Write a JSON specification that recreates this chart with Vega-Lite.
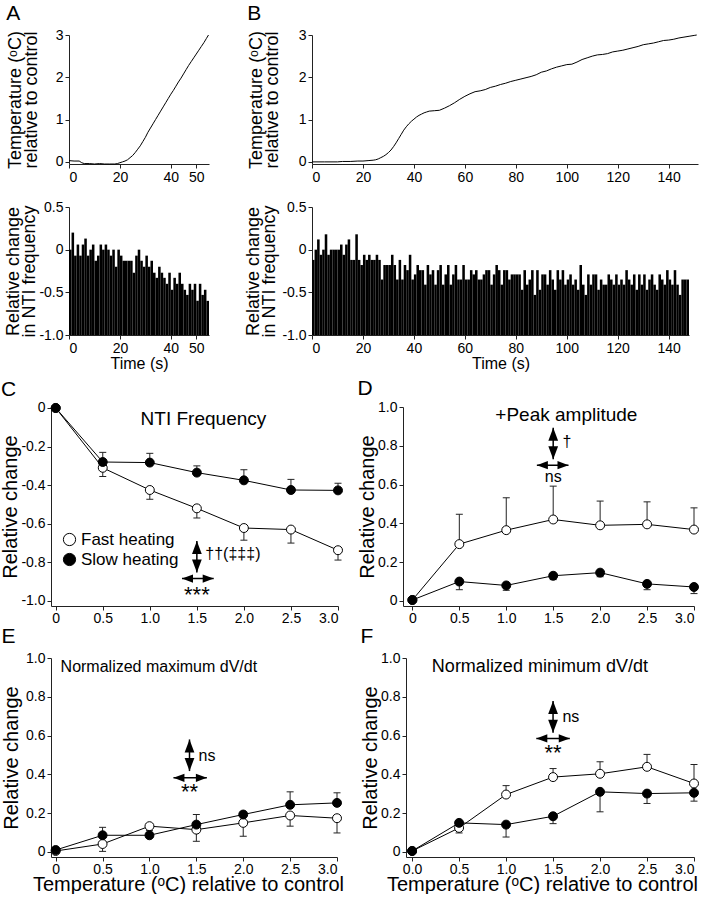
{
"$schema":"https://vega.github.io/schema/vega-lite/v6.json",
"padding":{"left":0,"top":3,"right":0,"bottom":0},
"background":"white",
"datasets":{
"tempA":[{"s":0,"y":0.03},{"s":2,"y":0.02},{"s":4,"y":0.02},{"s":5,"y":-0.02},{"s":6,"y":-0.04},{"s":8,"y":-0.04},{"s":10,"y":-0.05},{"s":12,"y":-0.04},{"s":14,"y":-0.05},{"s":16,"y":-0.05},{"s":18,"y":-0.05},{"s":19,"y":-0.04},{"s":20,"y":-0.02},{"s":21,"y":0},{"s":22,"y":0.02},{"s":23,"y":0.05},{"s":24,"y":0.1},{"s":25,"y":0.15},{"s":26,"y":0.22},{"s":27,"y":0.3},{"s":28,"y":0.38},{"s":29,"y":0.48},{"s":30,"y":0.58},{"s":31,"y":0.7},{"s":32,"y":0.8},{"s":33,"y":0.9},{"s":34,"y":1.0},{"s":35,"y":1.1},{"s":36,"y":1.2},{"s":37,"y":1.3},{"s":38,"y":1.4},{"s":39,"y":1.5},{"s":40,"y":1.6},{"s":41,"y":1.69},{"s":42,"y":1.79},{"s":43,"y":1.89},{"s":44,"y":1.98},{"s":45,"y":2.08},{"s":46,"y":2.18},{"s":47,"y":2.28},{"s":48,"y":2.37},{"s":49,"y":2.46},{"s":50,"y":2.55},{"s":51,"y":2.64},{"s":52,"y":2.73},{"s":53,"y":2.82},{"s":54,"y":2.92},{"s":54.8,"y":3.0}],
"tempB":[{"s":0,"y":0},{"s":5,"y":0},{"s":10,"y":0},{"s":12,"y":0.01},{"s":15,"y":0.01},{"s":18,"y":0.02},{"s":20,"y":0.02},{"s":22,"y":0.03},{"s":24,"y":0.04},{"s":25,"y":0.05},{"s":26,"y":0.07},{"s":27,"y":0.1},{"s":28,"y":0.13},{"s":29,"y":0.17},{"s":30,"y":0.22},{"s":31,"y":0.28},{"s":32,"y":0.36},{"s":33,"y":0.45},{"s":34,"y":0.55},{"s":35,"y":0.65},{"s":36,"y":0.75},{"s":37,"y":0.83},{"s":38,"y":0.9},{"s":39,"y":0.96},{"s":40,"y":1.01},{"s":41,"y":1.06},{"s":42,"y":1.1},{"s":43,"y":1.13},{"s":44,"y":1.16},{"s":45,"y":1.18},{"s":46,"y":1.2},{"s":48,"y":1.21},{"s":50,"y":1.22},{"s":52,"y":1.27},{"s":54,"y":1.33},{"s":56,"y":1.4},{"s":58,"y":1.48},{"s":60,"y":1.55},{"s":62,"y":1.61},{"s":64,"y":1.66},{"s":66,"y":1.68},{"s":68,"y":1.71},{"s":70,"y":1.76},{"s":72,"y":1.79},{"s":74,"y":1.83},{"s":76,"y":1.86},{"s":78,"y":1.9},{"s":80,"y":1.93},{"s":82,"y":1.96},{"s":84,"y":1.99},{"s":86,"y":2.02},{"s":88,"y":2.06},{"s":90,"y":2.12},{"s":92,"y":2.15},{"s":94,"y":2.2},{"s":96,"y":2.24},{"s":98,"y":2.27},{"s":100,"y":2.3},{"s":102,"y":2.31},{"s":104,"y":2.36},{"s":106,"y":2.42},{"s":108,"y":2.46},{"s":110,"y":2.5},{"s":112,"y":2.53},{"s":114,"y":2.54},{"s":116,"y":2.56},{"s":118,"y":2.6},{"s":120,"y":2.62},{"s":122,"y":2.64},{"s":124,"y":2.67},{"s":126,"y":2.7},{"s":128,"y":2.73},{"s":130,"y":2.77},{"s":132,"y":2.79},{"s":134,"y":2.81},{"s":136,"y":2.84},{"s":138,"y":2.87},{"s":140,"y":2.88},{"s":142,"y":2.9},{"s":144,"y":2.93},{"s":146,"y":2.95},{"s":148,"y":2.97},{"s":150,"y":2.99},{"s":151,"y":3.0}],
"barsA":[{"t0":0,"t1":1,"v":0},{"t0":1,"t1":2,"v":0.2},{"t0":2,"t1":3,"v":-0.07},{"t0":3,"t1":4,"v":0.06},{"t0":4,"t1":5,"v":-0.07},{"t0":5,"t1":6,"v":0.06},{"t0":6,"t1":7,"v":0.13},{"t0":7,"t1":8,"v":-0.07},{"t0":8,"t1":9,"v":0},{"t0":9,"t1":10,"v":0.06},{"t0":10,"t1":11,"v":-0.13},{"t0":11,"t1":12,"v":-0.07},{"t0":12,"t1":13,"v":0.06},{"t0":13,"t1":14,"v":0},{"t0":14,"t1":15,"v":0.06},{"t0":15,"t1":16,"v":0},{"t0":16,"t1":17,"v":-0.07},{"t0":17,"t1":18,"v":0},{"t0":18,"t1":19,"v":-0.2},{"t0":19,"t1":20,"v":0},{"t0":20,"t1":21,"v":-0.07},{"t0":21,"t1":22,"v":-0.13},{"t0":22,"t1":23,"v":-0.13},{"t0":23,"t1":24,"v":-0.13},{"t0":24,"t1":25,"v":-0.13},{"t0":25,"t1":26,"v":-0.27},{"t0":26,"t1":27,"v":-0.07},{"t0":27,"t1":28,"v":0},{"t0":28,"t1":29,"v":-0.13},{"t0":29,"t1":30,"v":-0.2},{"t0":30,"t1":31,"v":-0.07},{"t0":31,"t1":32,"v":-0.2},{"t0":32,"t1":33,"v":-0.13},{"t0":33,"t1":34,"v":-0.27},{"t0":34,"t1":35,"v":-0.33},{"t0":35,"t1":36,"v":-0.2},{"t0":36,"t1":37,"v":-0.27},{"t0":37,"t1":38,"v":-0.33},{"t0":38,"t1":39,"v":-0.4},{"t0":39,"t1":40,"v":-0.27},{"t0":40,"t1":41,"v":-0.47},{"t0":41,"t1":42,"v":-0.33},{"t0":42,"t1":43,"v":-0.4},{"t0":43,"t1":44,"v":-0.27},{"t0":44,"t1":45,"v":-0.4},{"t0":45,"t1":46,"v":-0.47},{"t0":46,"t1":47,"v":-0.53},{"t0":47,"t1":48,"v":-0.4},{"t0":48,"t1":49,"v":-0.47},{"t0":49,"t1":50,"v":-0.4},{"t0":50,"t1":51,"v":-0.6},{"t0":51,"t1":52,"v":-0.4},{"t0":52,"t1":53,"v":-0.53},{"t0":53,"t1":54,"v":-0.47},{"t0":54,"t1":55,"v":-0.6}],
"barsB":[{"t0":0,"t1":1,"v":-0.12},{"t0":1,"t1":2,"v":0},{"t0":2,"t1":3,"v":0.12},{"t0":3,"t1":4,"v":-0.06},{"t0":4,"t1":5,"v":0},{"t0":5,"t1":6,"v":0.18},{"t0":6,"t1":7,"v":-0.06},{"t0":7,"t1":8,"v":0},{"t0":8,"t1":9,"v":0},{"t0":9,"t1":10,"v":0},{"t0":10,"t1":11,"v":0},{"t0":11,"t1":12,"v":0.06},{"t0":12,"t1":13,"v":-0.06},{"t0":13,"t1":14,"v":0.06},{"t0":14,"t1":15,"v":0.12},{"t0":15,"t1":16,"v":-0.12},{"t0":16,"t1":17,"v":-0.12},{"t0":17,"t1":18,"v":0.18},{"t0":18,"t1":19,"v":-0.12},{"t0":19,"t1":20,"v":-0.18},{"t0":20,"t1":21,"v":-0.06},{"t0":21,"t1":22,"v":-0.12},{"t0":22,"t1":23,"v":-0.06},{"t0":23,"t1":24,"v":-0.12},{"t0":24,"t1":25,"v":-0.12},{"t0":25,"t1":26,"v":-0.06},{"t0":26,"t1":27,"v":-0.12},{"t0":27,"t1":28,"v":-0.35},{"t0":28,"t1":29,"v":-0.18},{"t0":29,"t1":30,"v":-0.18},{"t0":30,"t1":31,"v":-0.18},{"t0":31,"t1":32,"v":-0.06},{"t0":32,"t1":33,"v":-0.18},{"t0":33,"t1":34,"v":-0.35},{"t0":34,"t1":35,"v":-0.12},{"t0":35,"t1":36,"v":-0.35},{"t0":36,"t1":37,"v":-0.18},{"t0":37,"t1":38,"v":-0.24},{"t0":38,"t1":39,"v":-0.06},{"t0":39,"t1":40,"v":-0.35},{"t0":40,"t1":41,"v":-0.29},{"t0":41,"t1":42,"v":-0.18},{"t0":42,"t1":43,"v":-0.24},{"t0":43,"t1":44,"v":-0.24},{"t0":44,"t1":45,"v":-0.41},{"t0":45,"t1":46,"v":-0.18},{"t0":46,"t1":47,"v":-0.29},{"t0":47,"t1":48,"v":-0.24},{"t0":48,"t1":49,"v":-0.41},{"t0":49,"t1":50,"v":-0.24},{"t0":50,"t1":51,"v":-0.18},{"t0":51,"t1":52,"v":-0.41},{"t0":52,"t1":53,"v":-0.29},{"t0":53,"t1":54,"v":-0.18},{"t0":54,"t1":55,"v":-0.41},{"t0":55,"t1":56,"v":-0.29},{"t0":56,"t1":57,"v":-0.18},{"t0":57,"t1":58,"v":-0.35},{"t0":58,"t1":59,"v":-0.35},{"t0":59,"t1":60,"v":-0.18},{"t0":60,"t1":61,"v":-0.35},{"t0":61,"t1":62,"v":-0.35},{"t0":62,"t1":63,"v":-0.24},{"t0":63,"t1":64,"v":-0.29},{"t0":64,"t1":65,"v":-0.24},{"t0":65,"t1":66,"v":-0.35},{"t0":66,"t1":67,"v":-0.35},{"t0":67,"t1":68,"v":-0.29},{"t0":68,"t1":69,"v":-0.24},{"t0":69,"t1":70,"v":-0.24},{"t0":70,"t1":71,"v":-0.41},{"t0":71,"t1":72,"v":-0.29},{"t0":72,"t1":73,"v":-0.18},{"t0":73,"t1":74,"v":-0.24},{"t0":74,"t1":75,"v":-0.41},{"t0":75,"t1":76,"v":-0.24},{"t0":76,"t1":77,"v":-0.24},{"t0":77,"t1":78,"v":-0.35},{"t0":78,"t1":79,"v":-0.29},{"t0":79,"t1":80,"v":-0.29},{"t0":80,"t1":81,"v":-0.29},{"t0":81,"t1":82,"v":-0.29},{"t0":82,"t1":83,"v":-0.47},{"t0":83,"t1":84,"v":-0.24},{"t0":84,"t1":85,"v":-0.41},{"t0":85,"t1":86,"v":-0.35},{"t0":86,"t1":87,"v":-0.24},{"t0":87,"t1":88,"v":-0.53},{"t0":88,"t1":89,"v":-0.24},{"t0":89,"t1":90,"v":-0.47},{"t0":90,"t1":91,"v":-0.29},{"t0":91,"t1":92,"v":-0.29},{"t0":92,"t1":93,"v":-0.41},{"t0":93,"t1":94,"v":-0.24},{"t0":94,"t1":95,"v":-0.35},{"t0":95,"t1":96,"v":-0.47},{"t0":96,"t1":97,"v":-0.24},{"t0":97,"t1":98,"v":-0.35},{"t0":98,"t1":99,"v":-0.24},{"t0":99,"t1":100,"v":-0.41},{"t0":100,"t1":101,"v":-0.35},{"t0":101,"t1":102,"v":-0.29},{"t0":102,"t1":103,"v":-0.41},{"t0":103,"t1":104,"v":-0.35},{"t0":104,"t1":105,"v":-0.47},{"t0":105,"t1":106,"v":-0.18},{"t0":106,"t1":107,"v":-0.41},{"t0":107,"t1":108,"v":-0.53},{"t0":108,"t1":109,"v":-0.29},{"t0":109,"t1":110,"v":-0.41},{"t0":110,"t1":111,"v":-0.29},{"t0":111,"t1":112,"v":-0.29},{"t0":112,"t1":113,"v":-0.47},{"t0":113,"t1":114,"v":-0.35},{"t0":114,"t1":115,"v":-0.41},{"t0":115,"t1":116,"v":-0.41},{"t0":116,"t1":117,"v":-0.29},{"t0":117,"t1":118,"v":-0.35},{"t0":118,"t1":119,"v":-0.41},{"t0":119,"t1":120,"v":-0.29},{"t0":120,"t1":121,"v":-0.41},{"t0":121,"t1":122,"v":-0.35},{"t0":122,"t1":123,"v":-0.41},{"t0":123,"t1":124,"v":-0.24},{"t0":124,"t1":125,"v":-0.35},{"t0":125,"t1":126,"v":-0.41},{"t0":126,"t1":127,"v":-0.29},{"t0":127,"t1":128,"v":-0.47},{"t0":128,"t1":129,"v":-0.29},{"t0":129,"t1":130,"v":-0.41},{"t0":130,"t1":131,"v":-0.29},{"t0":131,"t1":132,"v":-0.47},{"t0":132,"t1":133,"v":-0.35},{"t0":133,"t1":134,"v":-0.29},{"t0":134,"t1":135,"v":-0.41},{"t0":135,"t1":136,"v":-0.47},{"t0":136,"t1":137,"v":-0.29},{"t0":137,"t1":138,"v":-0.35},{"t0":138,"t1":139,"v":-0.41},{"t0":139,"t1":140,"v":-0.24},{"t0":140,"t1":141,"v":-0.35},{"t0":141,"t1":142,"v":-0.41},{"t0":142,"t1":143,"v":-0.24},{"t0":143,"t1":144,"v":-0.41},{"t0":144,"t1":145,"v":-0.53},{"t0":145,"t1":146,"v":-0.35},{"t0":146,"t1":147,"v":-0.35},{"t0":147,"t1":148,"v":-0.35}],
"C":[{"t":0,"v":0,"g":"Fast heating"},{"t":0.5,"v":-0.31,"e":-0.355,"g":"Fast heating"},{"t":1,"v":-0.425,"e":-0.473,"g":"Fast heating"},{"t":1.5,"v":-0.52,"e":-0.57,"g":"Fast heating"},{"t":2,"v":-0.622,"e":-0.685,"g":"Fast heating"},{"t":2.5,"v":-0.63,"e":-0.7,"g":"Fast heating"},{"t":3,"v":-0.737,"e":-0.788,"g":"Fast heating"},{"t":0,"v":0,"g":"Slow heating"},{"t":0.5,"v":-0.28,"e":-0.23,"g":"Slow heating"},{"t":1,"v":-0.283,"e":-0.235,"g":"Slow heating"},{"t":1.5,"v":-0.335,"e":-0.3,"g":"Slow heating"},{"t":2,"v":-0.375,"e":-0.32,"g":"Slow heating"},{"t":2.5,"v":-0.425,"e":-0.37,"g":"Slow heating"},{"t":3,"v":-0.427,"e":-0.39,"g":"Slow heating"}],
"D":[{"t":0,"v":0.005,"g":"Fast heating"},{"t":0.5,"v":0.293,"e":0.447,"g":"Fast heating"},{"t":1,"v":0.365,"e":0.532,"g":"Fast heating"},{"t":1.5,"v":0.42,"e":0.592,"g":"Fast heating"},{"t":2,"v":0.39,"e":0.515,"g":"Fast heating"},{"t":2.5,"v":0.395,"e":0.511,"g":"Fast heating"},{"t":3,"v":0.368,"e":0.48,"g":"Fast heating"},{"t":0,"v":0.005,"g":"Slow heating"},{"t":0.5,"v":0.1,"e":0.058,"g":"Slow heating"},{"t":1,"v":0.08,"e":0.055,"g":"Slow heating"},{"t":1.5,"v":0.13,"e":0.11,"g":"Slow heating"},{"t":2,"v":0.146,"e":0.125,"g":"Slow heating"},{"t":2.5,"v":0.088,"e":0.058,"g":"Slow heating"},{"t":3,"v":0.072,"e":0.038,"g":"Slow heating"}],
"E":[{"t":0,"v":0.005,"g":"Fast heating"},{"t":0.5,"v":0.041,"e":0.003,"g":"Fast heating"},{"t":1,"v":0.133,"e":0.11,"g":"Fast heating"},{"t":1.5,"v":0.115,"e":0.055,"g":"Fast heating"},{"t":2,"v":0.15,"e":0.081,"g":"Fast heating"},{"t":2.5,"v":0.188,"e":0.133,"g":"Fast heating"},{"t":3,"v":0.174,"e":0.098,"g":"Fast heating"},{"t":0,"v":0.01,"g":"Slow heating"},{"t":0.5,"v":0.086,"e":0.127,"g":"Slow heating"},{"t":1,"v":0.086,"e":0.1,"g":"Slow heating"},{"t":1.5,"v":0.141,"e":0.193,"g":"Slow heating"},{"t":2,"v":0.193,"e":0.2,"g":"Slow heating"},{"t":2.5,"v":0.243,"e":0.31,"g":"Slow heating"},{"t":3,"v":0.253,"e":0.305,"g":"Slow heating"}],
"F":[{"t":0,"v":0.005,"g":"Fast heating"},{"t":0.5,"v":0.124,"e":0.098,"g":"Fast heating"},{"t":1,"v":0.296,"e":0.342,"g":"Fast heating"},{"t":1.5,"v":0.386,"e":0.43,"g":"Fast heating"},{"t":2,"v":0.403,"e":0.465,"g":"Fast heating"},{"t":2.5,"v":0.439,"e":0.503,"g":"Fast heating"},{"t":3,"v":0.353,"e":0.451,"g":"Fast heating"},{"t":0,"v":0.005,"g":"Slow heating"},{"t":0.5,"v":0.15,"e":0.13,"g":"Slow heating"},{"t":1,"v":0.141,"e":0.077,"g":"Slow heating"},{"t":1.5,"v":0.184,"e":0.146,"g":"Slow heating"},{"t":2,"v":0.31,"e":0.207,"g":"Slow heating"},{"t":2.5,"v":0.301,"e":0.25,"g":"Slow heating"},{"t":3,"v":0.305,"e":0.262,"g":"Slow heating"}],
"arC":[{"x":1.5,"ya":-0.689,"yb":-0.853,"yh":-0.884,"xl":1.342,"xr":1.679}],
"arD":[{"x":1.5,"ya":0.893,"yb":0.731,"yh":0.7,"xl":1.326,"xr":1.663}],
"arE":[{"x":1.427,"ya":0.58,"yb":0.417,"yh":0.382,"xl":1.256,"xr":1.612}],
"arF":[{"x":1.5,"ya":0.778,"yb":0.614,"yh":0.585,"xl":1.322,"xr":1.678}],
"lbC":[{"x":1.5,"y":-0.957,"label":"***","k":"s"},{"x":1.59,"y":-0.758,"label":"††(‡‡‡)","k":"l"}],
"lbD":[{"x":1.5,"y":0.64,"label":"ns","k":"c"},{"x":1.6,"y":0.82,"label":"†","k":"l"}],
"lbE":[{"x":1.427,"y":0.322,"label":"**","k":"s"},{"x":1.523,"y":0.497,"label":"ns","k":"l"}],
"lbF":[{"x":1.5,"y":0.52,"label":"**","k":"s"},{"x":1.6,"y":0.695,"label":"ns","k":"l"}]
},
"concat":[
{"hconcat":[
{"width":1,"height":1,"data":{"values":[]},"mark":{"type":"point","opacity":0}},
{"concat":[
{"hconcat":[
{"width":140,"height":129,"title":{"text":"A","offset":4},"data":{"name":"tempA"},"mark":{"type":"line","color":"black","strokeWidth":1},
"encoding":{"x":{"field":"s","type":"quantitative","scale":{"domain":[0,55],"nice":false},"axis":{"values":[0,20,40,50],"title":null,"labelOverlap":false}},
"y":{"field":"y","type":"quantitative","scale":{"domain":[-0.05,3],"nice":false},"axis":{"values":[0,1,2,3],"labelOverlap":false,"title":["Temperature (ᵒC)","relative to control"],"titleFontSize":18,"titleLineHeight":16,"titlePadding":15}}}},
{"width":386,"height":129,"title":{"text":"B","offset":4},"data":{"name":"tempB"},"mark":{"type":"line","color":"black","strokeWidth":1},
"encoding":{"x":{"field":"s","type":"quantitative","scale":{"domain":[0,151.5],"nice":false},"axis":{"values":[0,20,40,60,80,100,120,140],"title":null,"labelOverlap":false}},
"y":{"field":"y","type":"quantitative","scale":{"domain":[-0.05,3],"nice":false},"axis":{"values":[0,1,2,3],"labelOverlap":false,"title":["Temperature (ᵒC)","relative to control"],"titleFontSize":18,"titleLineHeight":16,"titlePadding":17}}}}
],"spacing":36,"resolve":{"scale":{"fill":"independent"},"legend":{"fill":"independent"}}},
{"hconcat":[
{"width":140,"height":128,"data":{"name":"barsA"},"mark":{"type":"bar","color":"black"},
"encoding":{"x":{"field":"t0","type":"quantitative","scale":{"domain":[0,55],"nice":false},"axis":{"values":[0,20,40,50],"labelOverlap":false,"title":"Time (s)","titleFontSize":16,"titlePadding":0}},"x2":{"field":"t1"},
"y":{"field":"v","type":"quantitative","scale":{"domain":[-1,0.5],"nice":false},"axis":{"values":[-1,-0.5,0,0.5],"labelOverlap":false,"labelExpr":"datum.value == 0 ? '0' : (datum.value < 0 ? '-' : '') + format(abs(datum.value), '.1f')","title":["Relative change","in NTI frequency"],"titleFontSize":18,"titleLineHeight":16,"titlePadding":0}},"y2":{"datum":-1}}},
{"width":377,"height":128,"data":{"name":"barsB"},"mark":{"type":"bar","color":"black"},
"encoding":{"x":{"field":"t0","type":"quantitative","scale":{"domain":[0,148],"nice":false},"axis":{"values":[0,20,40,60,80,100,120,140],"labelOverlap":false,"title":"Time (s)","titleFontSize":16,"titlePadding":0}},"x2":{"field":"t1"},
"y":{"field":"v","type":"quantitative","scale":{"domain":[-1,0.5],"nice":false},"axis":{"values":[-1,-0.5,0,0.5],"labelOverlap":false,"labelExpr":"datum.value == 0 ? '0' : (datum.value < 0 ? '-' : '') + format(abs(datum.value), '.1f')","title":["Relative change","in NTI frequency"],"titleFontSize":18,"titleLineHeight":16,"titlePadding":3}},"y2":{"datum":-1}}}
],"spacing":35,"resolve":{"scale":{"fill":"independent"},"legend":{"fill":"independent"}}}
],"columns":1,"spacing":16,"resolve":{"scale":{"fill":"independent"},"legend":{"fill":"independent"}}}
],"spacing":-48,"resolve":{"scale":{"fill":"independent"},"legend":{"fill":"independent"}}},
{"concat":[
{"hconcat":[
{"width":287,"height":199,"title":{"text":"C","offset":1},"data":{"name":"C"},"layer":[
{"mark":{"type":"line","color":"black","strokeWidth":1},"encoding":{"x":{"field":"t","type":"quantitative","scale":{"domain":[-0.05,3],"nice":false,"zero":false},"axis":{"values":[0,0.5,1,1.5,2,2.5,3],"labelOverlap":false,"labelExpr":"datum.value == 0 ? '0' : format(datum.value, '.1f')","title":null,"labelPadding":1}},"y":{"field":"v","type":"quantitative","scale":{"domain":[-1.026,0.005],"nice":false,"zero":false},"axis":{"tickCount":5,"labelOverlap":false,"labelExpr":"datum.value == 0 ? '0' : (datum.value < 0 ? '-' : '') + format(abs(datum.value), '.1f')","title":"Relative change","titlePadding":0}},"detail":{"field":"g"}}},
{"transform":[{"filter":"isValid(datum.e)"}],"mark":{"type":"rule","color":"#222","strokeWidth":1},"encoding":{"x":{"field":"t","type":"quantitative"},"y":{"field":"v","type":"quantitative"},"y2":{"field":"e"}}},
{"transform":[{"filter":"isValid(datum.e)"}],"mark":{"type":"tick","orient":"horizontal","color":"#222","thickness":1,"size":7,"opacity":1},"encoding":{"x":{"field":"t","type":"quantitative"},"y":{"field":"e","type":"quantitative"}}},
{"mark":{"type":"point","shape":"circle","filled":true,"stroke":"black","strokeWidth":1,"size":80,"opacity":1},"encoding":{"x":{"field":"t","type":"quantitative"},"y":{"field":"v","type":"quantitative"},"fill":{"field":"g","type":"nominal","scale":{"domain":["Fast heating","Slow heating"],"range":["white","black"]},"legend":{"orient":"none","legendX":10,"legendY":124,"title":null,"labelFontSize":17,"symbolSize":150,"symbolType":"circle","symbolStrokeColor":"black","symbolStrokeWidth":1,"rowPadding":2,"labelOffset":3}}}},
{"data":{"values":[{}]},"mark":{"type":"text","fontSize":19,"align":"center","baseline":"middle"},"encoding":{"x":{"datum":1.57},"y":{"datum":-0.055},"text":{"value":"NTI Frequency"}}},
{"data":{"name":"arC"},"mark":{"type":"rule","color":"black","strokeWidth":1.5},"encoding":{"x":{"field":"x","type":"quantitative"},"y":{"field":"ya","type":"quantitative"},"y2":{"field":"yb"}}},
{"data":{"name":"arC"},"mark":{"type":"rule","color":"black","strokeWidth":1.5},"encoding":{"x":{"field":"xl","type":"quantitative"},"x2":{"field":"xr"},"y":{"field":"yh","type":"quantitative"}}},
{"data":{"name":"arC"},"mark":{"type":"point","shape":"M0,0L0.75,2L-0.75,2Z","filled":true,"color":"black","size":169,"opacity":1},"encoding":{"x":{"field":"x","type":"quantitative"},"y":{"field":"ya","type":"quantitative"}}},
{"data":{"name":"arC"},"mark":{"type":"point","shape":"M0,0L0.75,-2L-0.75,-2Z","filled":true,"color":"black","size":169,"opacity":1},"encoding":{"x":{"field":"x","type":"quantitative"},"y":{"field":"yb","type":"quantitative"}}},
{"data":{"name":"arC"},"mark":{"type":"point","shape":"M0,0L2,0.75L2,-0.75Z","filled":true,"color":"black","size":121,"opacity":1},"encoding":{"x":{"field":"xl","type":"quantitative"},"y":{"field":"yh","type":"quantitative"}}},
{"data":{"name":"arC"},"mark":{"type":"point","shape":"M0,0L-2,0.75L-2,-0.75Z","filled":true,"color":"black","size":121,"opacity":1},"encoding":{"x":{"field":"xr","type":"quantitative"},"y":{"field":"yh","type":"quantitative"}}},
{"data":{"name":"lbC"},"transform":[{"filter":"datum.k == 's'"}],"mark":{"type":"text","fontSize":22,"align":"center","baseline":"middle","dy":2},"encoding":{"x":{"field":"x","type":"quantitative"},"y":{"field":"y","type":"quantitative"},"text":{"field":"label"}}},
{"data":{"name":"lbC"},"transform":[{"filter":"datum.k == 'l'"}],"mark":{"type":"text","fontSize":16,"align":"left","baseline":"middle"},"encoding":{"x":{"field":"x","type":"quantitative"},"y":{"field":"y","type":"quantitative"},"text":{"field":"label"}}}
]},
{"width":291,"height":199,"title":{"text":"D","offset":1},"data":{"name":"D"},"layer":[
{"mark":{"type":"line","color":"black","strokeWidth":1},"encoding":{"x":{"field":"t","type":"quantitative","scale":{"domain":[-0.1,3],"nice":false,"zero":false},"axis":{"values":[0,0.5,1,1.5,2,2.5,3],"labelOverlap":false,"labelExpr":"datum.value == 0 ? '0' : format(datum.value, '.1f')","title":null,"labelPadding":1}},"y":{"field":"v","type":"quantitative","scale":{"domain":[-0.026,1],"nice":false,"zero":false},"axis":{"tickCount":5,"labelOverlap":false,"labelExpr":"datum.value == 0 ? '0' : format(datum.value, '.1f')","title":"Relative change","titlePadding":0}},"detail":{"field":"g"}}},
{"transform":[{"filter":"isValid(datum.e)"}],"mark":{"type":"rule","color":"#222","strokeWidth":1},"encoding":{"x":{"field":"t","type":"quantitative"},"y":{"field":"v","type":"quantitative"},"y2":{"field":"e"}}},
{"transform":[{"filter":"isValid(datum.e)"}],"mark":{"type":"tick","orient":"horizontal","color":"#222","thickness":1,"size":7,"opacity":1},"encoding":{"x":{"field":"t","type":"quantitative"},"y":{"field":"e","type":"quantitative"}}},
{"mark":{"type":"point","shape":"circle","filled":true,"stroke":"black","strokeWidth":1,"size":80,"opacity":1},"encoding":{"x":{"field":"t","type":"quantitative"},"y":{"field":"v","type":"quantitative"},"fill":{"field":"g","type":"nominal","scale":{"domain":["Fast heating","Slow heating"],"range":["white","black"]},"legend":null}}},
{"data":{"values":[{}]},"mark":{"type":"text","fontSize":19,"align":"center","baseline":"middle"},"encoding":{"x":{"datum":1.64},"y":{"datum":0.96},"text":{"value":"+Peak amplitude"}}},
{"data":{"name":"arD"},"mark":{"type":"rule","color":"black","strokeWidth":1.5},"encoding":{"x":{"field":"x","type":"quantitative"},"y":{"field":"ya","type":"quantitative"},"y2":{"field":"yb"}}},
{"data":{"name":"arD"},"mark":{"type":"rule","color":"black","strokeWidth":1.5},"encoding":{"x":{"field":"xl","type":"quantitative"},"x2":{"field":"xr"},"y":{"field":"yh","type":"quantitative"}}},
{"data":{"name":"arD"},"mark":{"type":"point","shape":"M0,0L0.75,2L-0.75,2Z","filled":true,"color":"black","size":169,"opacity":1},"encoding":{"x":{"field":"x","type":"quantitative"},"y":{"field":"ya","type":"quantitative"}}},
{"data":{"name":"arD"},"mark":{"type":"point","shape":"M0,0L0.75,-2L-0.75,-2Z","filled":true,"color":"black","size":169,"opacity":1},"encoding":{"x":{"field":"x","type":"quantitative"},"y":{"field":"yb","type":"quantitative"}}},
{"data":{"name":"arD"},"mark":{"type":"point","shape":"M0,0L2,0.75L2,-0.75Z","filled":true,"color":"black","size":121,"opacity":1},"encoding":{"x":{"field":"xl","type":"quantitative"},"y":{"field":"yh","type":"quantitative"}}},
{"data":{"name":"arD"},"mark":{"type":"point","shape":"M0,0L-2,0.75L-2,-0.75Z","filled":true,"color":"black","size":121,"opacity":1},"encoding":{"x":{"field":"xr","type":"quantitative"},"y":{"field":"yh","type":"quantitative"}}},
{"data":{"name":"lbD"},"transform":[{"filter":"datum.k == 'c'"}],"mark":{"type":"text","fontSize":16,"align":"center","baseline":"middle"},"encoding":{"x":{"field":"x","type":"quantitative"},"y":{"field":"y","type":"quantitative"},"text":{"field":"label"}}},
{"data":{"name":"lbD"},"transform":[{"filter":"datum.k == 'l'"}],"mark":{"type":"text","fontSize":16,"align":"left","baseline":"middle"},"encoding":{"x":{"field":"x","type":"quantitative"},"y":{"field":"y","type":"quantitative"},"text":{"field":"label"}}}
]}
],"spacing":12,"resolve":{"scale":{"fill":"independent"},"legend":{"fill":"independent"}}},
{"hconcat":[
{"width":286,"height":199,"title":{"text":"E","offset":4},"data":{"name":"E"},"layer":[
{"mark":{"type":"line","color":"black","strokeWidth":1},"encoding":{"x":{"field":"t","type":"quantitative","scale":{"domain":[-0.05,3],"nice":false,"zero":false},"axis":{"values":[0,0.5,1,1.5,2,2.5,3],"labelOverlap":false,"labelExpr":"datum.value == 0 ? '0' : format(datum.value, '.1f')","title":"Temperature (ᵒC) relative to control","titleFontSize":20,"titlePadding":-2,"titleX":137,"labelPadding":1}},"y":{"field":"v","type":"quantitative","scale":{"domain":[-0.026,1],"nice":false,"zero":false},"axis":{"tickCount":5,"labelOverlap":false,"labelExpr":"datum.value == 0 ? '0' : format(datum.value, '.1f')","title":"Relative change","titlePadding":4}},"detail":{"field":"g"}}},
{"transform":[{"filter":"isValid(datum.e)"}],"mark":{"type":"rule","color":"#222","strokeWidth":1},"encoding":{"x":{"field":"t","type":"quantitative"},"y":{"field":"v","type":"quantitative"},"y2":{"field":"e"}}},
{"transform":[{"filter":"isValid(datum.e)"}],"mark":{"type":"tick","orient":"horizontal","color":"#222","thickness":1,"size":7,"opacity":1},"encoding":{"x":{"field":"t","type":"quantitative"},"y":{"field":"e","type":"quantitative"}}},
{"mark":{"type":"point","shape":"circle","filled":true,"stroke":"black","strokeWidth":1,"size":80,"opacity":1},"encoding":{"x":{"field":"t","type":"quantitative"},"y":{"field":"v","type":"quantitative"},"fill":{"field":"g","type":"nominal","scale":{"domain":["Fast heating","Slow heating"],"range":["white","black"]},"legend":null}}},
{"data":{"values":[{}]},"mark":{"type":"text","fontSize":16,"align":"center","baseline":"middle"},"encoding":{"x":{"datum":1.1},"y":{"datum":0.954},"text":{"value":"Normalized maximum dV/dt"}}},
{"data":{"name":"arE"},"mark":{"type":"rule","color":"black","strokeWidth":1.5},"encoding":{"x":{"field":"x","type":"quantitative"},"y":{"field":"ya","type":"quantitative"},"y2":{"field":"yb"}}},
{"data":{"name":"arE"},"mark":{"type":"rule","color":"black","strokeWidth":1.5},"encoding":{"x":{"field":"xl","type":"quantitative"},"x2":{"field":"xr"},"y":{"field":"yh","type":"quantitative"}}},
{"data":{"name":"arE"},"mark":{"type":"point","shape":"M0,0L0.75,2L-0.75,2Z","filled":true,"color":"black","size":169,"opacity":1},"encoding":{"x":{"field":"x","type":"quantitative"},"y":{"field":"ya","type":"quantitative"}}},
{"data":{"name":"arE"},"mark":{"type":"point","shape":"M0,0L0.75,-2L-0.75,-2Z","filled":true,"color":"black","size":169,"opacity":1},"encoding":{"x":{"field":"x","type":"quantitative"},"y":{"field":"yb","type":"quantitative"}}},
{"data":{"name":"arE"},"mark":{"type":"point","shape":"M0,0L2,0.75L2,-0.75Z","filled":true,"color":"black","size":121,"opacity":1},"encoding":{"x":{"field":"xl","type":"quantitative"},"y":{"field":"yh","type":"quantitative"}}},
{"data":{"name":"arE"},"mark":{"type":"point","shape":"M0,0L-2,0.75L-2,-0.75Z","filled":true,"color":"black","size":121,"opacity":1},"encoding":{"x":{"field":"xr","type":"quantitative"},"y":{"field":"yh","type":"quantitative"}}},
{"data":{"name":"lbE"},"transform":[{"filter":"datum.k == 's'"}],"mark":{"type":"text","fontSize":22,"align":"center","baseline":"middle","dy":2},"encoding":{"x":{"field":"x","type":"quantitative"},"y":{"field":"y","type":"quantitative"},"text":{"field":"label"}}},
{"data":{"name":"lbE"},"transform":[{"filter":"datum.k == 'l'"}],"mark":{"type":"text","fontSize":16,"align":"left","baseline":"middle"},"encoding":{"x":{"field":"x","type":"quantitative"},"y":{"field":"y","type":"quantitative"},"text":{"field":"label"}}}
]},
{"width":288,"height":199,"title":{"text":"F","offset":4},"data":{"name":"F"},"layer":[
{"mark":{"type":"line","color":"black","strokeWidth":1},"encoding":{"x":{"field":"t","type":"quantitative","scale":{"domain":[-0.065,3],"nice":false,"zero":false},"axis":{"values":[0,0.5,1,1.5,2,2.5,3],"labelOverlap":false,"format":".1f","title":"Temperature (ᵒC) relative to control","titleFontSize":20,"titlePadding":-2,"titleX":136,"labelPadding":1}},"y":{"field":"v","type":"quantitative","scale":{"domain":[-0.026,1],"nice":false,"zero":false},"axis":{"tickCount":5,"labelOverlap":false,"labelExpr":"datum.value == 0 ? '0' : format(datum.value, '.1f')","title":"Relative change","titlePadding":0}},"detail":{"field":"g"}}},
{"transform":[{"filter":"isValid(datum.e)"}],"mark":{"type":"rule","color":"#222","strokeWidth":1},"encoding":{"x":{"field":"t","type":"quantitative"},"y":{"field":"v","type":"quantitative"},"y2":{"field":"e"}}},
{"transform":[{"filter":"isValid(datum.e)"}],"mark":{"type":"tick","orient":"horizontal","color":"#222","thickness":1,"size":7,"opacity":1},"encoding":{"x":{"field":"t","type":"quantitative"},"y":{"field":"e","type":"quantitative"}}},
{"mark":{"type":"point","shape":"circle","filled":true,"stroke":"black","strokeWidth":1,"size":80,"opacity":1},"encoding":{"x":{"field":"t","type":"quantitative"},"y":{"field":"v","type":"quantitative"},"fill":{"field":"g","type":"nominal","scale":{"domain":["Fast heating","Slow heating"],"range":["white","black"]},"legend":null}}},
{"data":{"values":[{}]},"mark":{"type":"text","fontSize":18,"align":"center","baseline":"middle"},"encoding":{"x":{"datum":1.36},"y":{"datum":0.954},"text":{"value":"Normalized minimum dV/dt"}}},
{"data":{"name":"arF"},"mark":{"type":"rule","color":"black","strokeWidth":1.5},"encoding":{"x":{"field":"x","type":"quantitative"},"y":{"field":"ya","type":"quantitative"},"y2":{"field":"yb"}}},
{"data":{"name":"arF"},"mark":{"type":"rule","color":"black","strokeWidth":1.5},"encoding":{"x":{"field":"xl","type":"quantitative"},"x2":{"field":"xr"},"y":{"field":"yh","type":"quantitative"}}},
{"data":{"name":"arF"},"mark":{"type":"point","shape":"M0,0L0.75,2L-0.75,2Z","filled":true,"color":"black","size":169,"opacity":1},"encoding":{"x":{"field":"x","type":"quantitative"},"y":{"field":"ya","type":"quantitative"}}},
{"data":{"name":"arF"},"mark":{"type":"point","shape":"M0,0L0.75,-2L-0.75,-2Z","filled":true,"color":"black","size":169,"opacity":1},"encoding":{"x":{"field":"x","type":"quantitative"},"y":{"field":"yb","type":"quantitative"}}},
{"data":{"name":"arF"},"mark":{"type":"point","shape":"M0,0L2,0.75L2,-0.75Z","filled":true,"color":"black","size":121,"opacity":1},"encoding":{"x":{"field":"xl","type":"quantitative"},"y":{"field":"yh","type":"quantitative"}}},
{"data":{"name":"arF"},"mark":{"type":"point","shape":"M0,0L-2,0.75L-2,-0.75Z","filled":true,"color":"black","size":121,"opacity":1},"encoding":{"x":{"field":"xr","type":"quantitative"},"y":{"field":"yh","type":"quantitative"}}},
{"data":{"name":"lbF"},"transform":[{"filter":"datum.k == 's'"}],"mark":{"type":"text","fontSize":22,"align":"center","baseline":"middle","dy":2},"encoding":{"x":{"field":"x","type":"quantitative"},"y":{"field":"y","type":"quantitative"},"text":{"field":"label"}}},
{"data":{"name":"lbF"},"transform":[{"filter":"datum.k == 'l'"}],"mark":{"type":"text","fontSize":16,"align":"left","baseline":"middle"},"encoding":{"x":{"field":"x","type":"quantitative"},"y":{"field":"y","type":"quantitative"},"text":{"field":"label"}}}
]}
],"spacing":16,"resolve":{"scale":{"fill":"independent"},"legend":{"fill":"independent"}}}
],"columns":1,"spacing":1,"resolve":{"scale":{"fill":"independent"},"legend":{"fill":"independent"}}}
],
"columns":1,
"spacing":7,
"resolve":{"scale":{"fill":"independent"},"legend":{"fill":"independent"}},
"config":{
"font":"Liberation Sans",
"view":{"stroke":null},
"axis":{"domainColor":"#222","tickColor":"#222","labelColor":"black","titleColor":"black","grid":false,"labelFontSize":14,"titleFontSize":20,"titleFontWeight":"normal","tickSize":4,"labelPadding":2,"domainWidth":1,"tickWidth":1,"labelFont":"Liberation Sans","titleFont":"Liberation Sans","labelOverlap":false},
"title":{"fontSize":21,"fontWeight":"normal","anchor":"start","frame":"bounds","font":"Liberation Sans","color":"black"},
"text":{"font":"Liberation Sans","color":"black"},
"legend":{"labelFont":"Liberation Sans","labelColor":"black"}
}
}
